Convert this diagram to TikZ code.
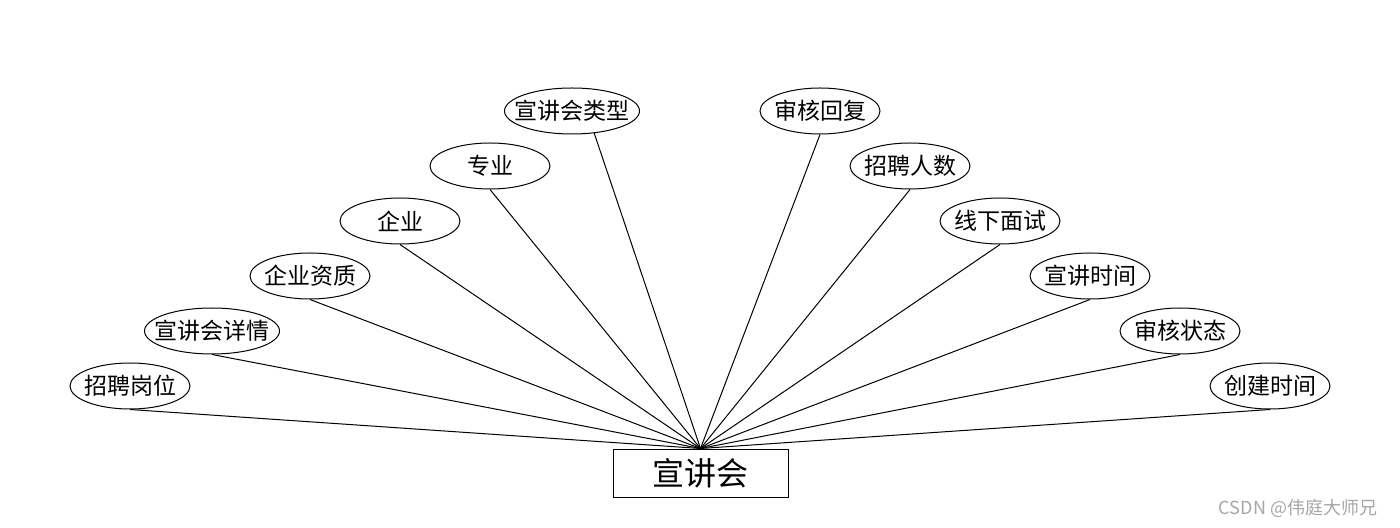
\documentclass[tikz,border=0pt]{standalone}
\usepackage{fontspec}
\setmainfont{Noto Sans CJK SC}
\usetikzlibrary{shapes.geometric}

\begin{document}
\begin{tikzpicture}[x=0.5pt, y=-0.5pt,
    attr/.style={draw, ellipse, line width=0.5pt, minimum width=60pt, minimum height=23pt,
      inner xsep=-20pt, inner ysep=0pt, font=\fontsize{11.5}{12}\selectfont},
    wide/.style={minimum width=67.5pt},
    entity/.style={draw, rectangle, line width=0.5pt, minimum width=87.5pt, minimum height=24pt,
      inner sep=0pt, font=\fontsize{16}{18}\selectfont},
    link/.style={line width=0.5pt}]
    \useasboundingbox (0,0) rectangle (1400,528);
    % entity
    \node[entity] (xjh) at (700.5,473) {宣讲会};
    % left attributes
    \node[attr] (zpgw) at (130,386) {招聘岗位};
    \node[attr, wide] (xjxq) at (212,331) {宣讲会详情};
    \node[attr] (qyzz) at (310,276) {企业资质};
    \node[attr] (qy) at (400,221) {企业};
    \node[attr] (zy) at (490,166) {专业};
    \node[attr, wide] (xjlx) at (572,111) {宣讲会类型};
    % right attributes
    \node[attr] (shhf) at (820,111) {审核回复};
    \node[attr] (zprs) at (910,166) {招聘人数};
    \node[attr] (xxms) at (1000,221) {线下面试};
    \node[attr] (xjsj) at (1090,276) {宣讲时间};
    \node[attr] (shzt) at (1180,331) {审核状态};
    \node[attr] (cjsj) at (1270,386) {创建时间};
    % links
    \draw[link] (zpgw.south) -- (xjh.north);
    \draw[link] (xjxq.south) -- (xjh.north);
    \draw[link] (qyzz.south) -- (xjh.north);
    \draw[link] (qy.south) -- (xjh.north);
    \draw[link] (zy.south) -- (xjh.north);
    \draw[link] (xjlx.-45) -- (xjh.north);
    \draw[link] (shhf.south) -- (xjh.north);
    \draw[link] (zprs.south) -- (xjh.north);
    \draw[link] (xxms.south) -- (xjh.north);
    \draw[link] (xjsj.south) -- (xjh.north);
    \draw[link] (shzt.south) -- (xjh.north);
    \draw[link] (cjsj.south) -- (xjh.north);
    % watermark
    \node[gray!70, font=\fontsize{9}{10}\selectfont] (mark) at (1298,508) {CSDN @伟庭大师兄};
\end{tikzpicture}
\end{document}
